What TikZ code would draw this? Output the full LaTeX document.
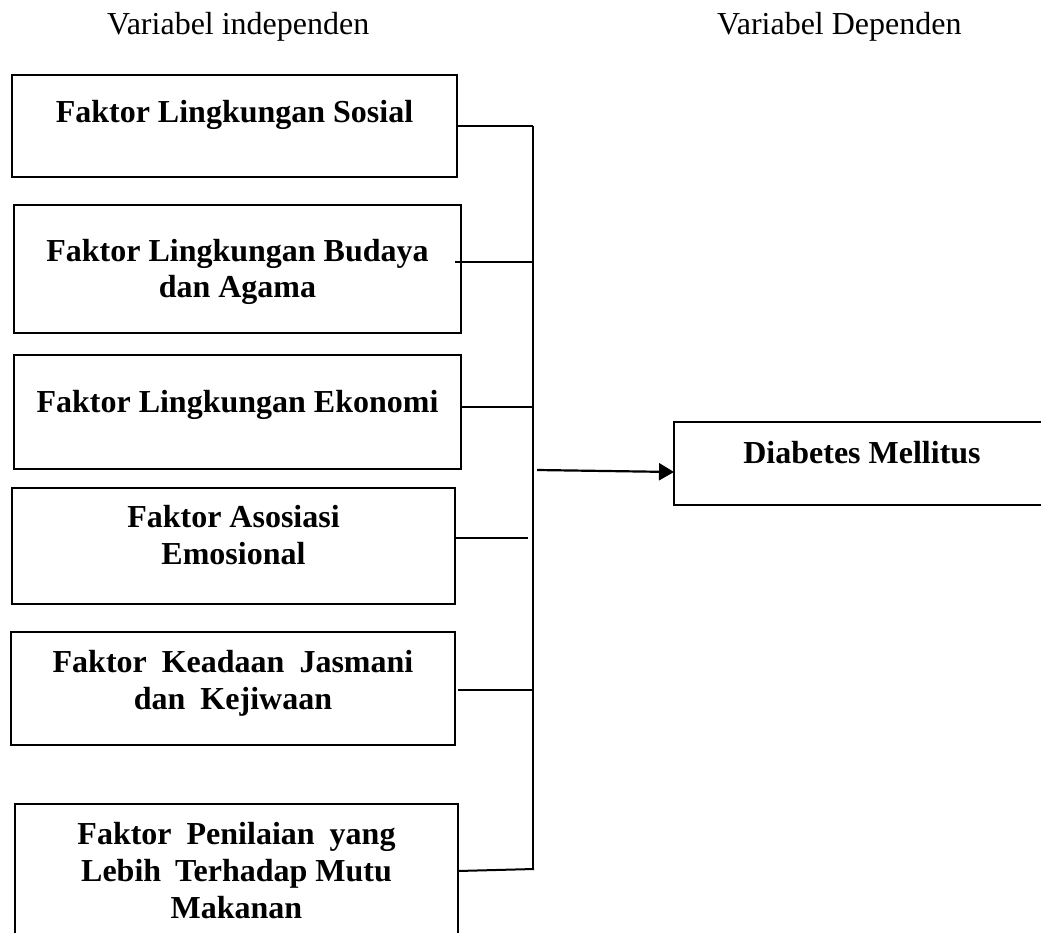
\documentclass[tikz,border=0pt]{standalone}
\usepackage{fontspec}
\setmainfont{Liberation Serif}
\usetikzlibrary{arrows.meta}
\begin{document}
\begin{tikzpicture}[x=1pt,y=-1pt,
  box/.style={draw, line width=2.2pt, inner sep=0pt, outer sep=0pt, anchor=north west},
  lbl/.style={font=\bfseries\fontsize{32}{36.8}\selectfont, align=center, anchor=base, inner sep=0pt},
  head/.style={font=\fontsize{32}{36.8}\selectfont, anchor=base west, inner sep=0pt},
  conn/.style={line width=2pt},
  arr/.style={line width=2.2pt, -{Triangle[length=15pt,width=17pt]}}
]
\useasboundingbox (0,0) rectangle (1041,933);
\clip (0,0) rectangle (1041,933);

% headers
\node[head] (h1) at (107,35) {Variabel independen};
\node[head] (h2) at (717,35) {Variabel Dependen};

% boxes
\node[box, minimum width=445pt, minimum height=102pt] (b1) at (12,75) {};
\node[box, minimum width=447pt, minimum height=128pt] (b2) at (14,205) {};
\node[box, minimum width=447pt, minimum height=114pt] (b3) at (14,355) {};
\node[box, minimum width=443pt, minimum height=116pt] (b4) at (12,488) {};
\node[box, minimum width=444pt, minimum height=113pt] (b5) at (11,632) {};
\node[box, minimum width=443pt, minimum height=150pt] (b6) at (15,804) {};
\node[box, minimum width=376pt, minimum height=83pt] (d) at (674,422) {};

% texts (anchor = baseline of the last line)
\node[lbl] (t1) at (234.5,123) {Faktor Lingkungan Sosial};
\node[lbl] (t2) at (237.5,298) {Faktor Lingkungan Budaya\\dan Agama};
\node[lbl] (t3) at (237.5,412) {Faktor Lingkungan Ekonomi};
\node[lbl] (t4) at (233.5,564) {Faktor Asosiasi\\Emosional};
\node[lbl] (t5) at (233,709) {Faktor\hspace{15pt}Keadaan\hspace{15pt}Jasmani\\dan\hspace{15pt}Kejiwaan};
\node[lbl] (t6) at (236.5,918) {Faktor\hspace{15pt}Penilaian\hspace{15pt}yang\\Lebih\hspace{14pt}Terhadap Mutu\\Makanan};
\node[lbl] (td) at (862,463) {Diabetes Mellitus};

% junction coordinates
\coordinate (vtop) at (533,126);
\coordinate (vbot) at (533,870);
\coordinate (j2) at (533,262);
\coordinate (j3) at (533,407);
\coordinate (j4) at (528,538);
\coordinate (j5) at (532,690);
\coordinate (j6) at (534,869);
\coordinate (as) at (537,470);

% connectors
\draw[conn] (vtop) -- (vbot);
\draw[conn] (b1.east) -- (vtop);
\draw[conn] ([xshift=-6pt]b2.east |- j2) -- (j2);
\draw[conn] (b3.east |- j3) -- (j3);
\draw[conn] (b4.east |- j4) -- (j4);
\draw[conn] ([xshift=3pt]b5.east |- j5) -- (j5);
\draw[conn] ([yshift=-2pt]b6.east |- j6) -- (j6);
\draw[arr] (as) -- ([yshift=-2pt]d.west |- as);
\end{tikzpicture}
\end{document}
